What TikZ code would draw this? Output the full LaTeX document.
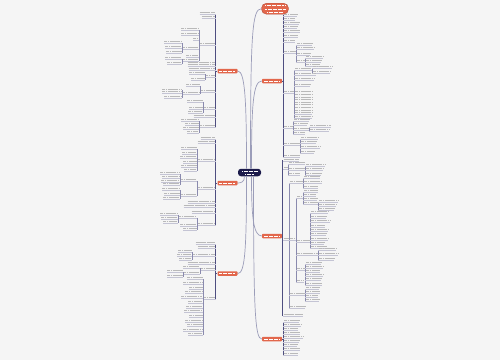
\documentclass[tikz,border=0pt]{standalone}
\definecolor{bg}{HTML}{F5F5F5}
\definecolor{navy}{HTML}{1C1B4B}
\definecolor{coral}{HTML}{E2674C}
\definecolor{connc}{HTML}{9B9DB9}
\definecolor{spinec}{HTML}{4E4E80}
\definecolor{subsp}{HTML}{8A8AAE}
\definecolor{txc}{HTML}{B9B9B9}
\definecolor{ulc}{HTML}{C4C4D4}
\newcommand\ritm[3]{\draw[tx] ({#1+1},{#2-1.3}) -- ({#1+#3},{#2-1.3}); \draw[ul] (#1,#2) -- ({#1+#3},#2);}
\newcommand\litm[3]{\draw[tx] ({#1-#3},{#2-1.3}) -- ({#1-1},{#2-1.3}); \draw[ul] ({#1-#3},#2) -- (#1,#2);}
\newcommand\rpar[4]{\foreach \kk in {1,...,#4}{\draw[tx] ({#1+1},{#2-1.3-2.6*(\kk-1)}) -- ({#1+#3},{#2-1.3-2.6*(\kk-1)});} \draw[ul] (#1,#2) -- ({#1+#3},#2);}
\newcommand\lpar[4]{\foreach \kk in {1,...,#4}{\draw[tx] ({#1-#3},{#2-1.3-2.6*(\kk-1)}) -- ({#1-1},{#2-1.3-2.6*(\kk-1)});} \draw[ul] ({#1-#3},#2) -- (#1,#2);}
\newcommand\spn[3]{\draw[sp] (#1,#2) -- (#1,#3);}
\begin{document}
\begin{tikzpicture}[x=1pt,y=-1pt,
 tx/.style={txc,line width=0.9pt,dash pattern=on 1.6pt off 0.25pt},
 ul/.style={ulc,line width=0.35pt},
 sp/.style={subsp,line width=0.45pt},
 msp/.style={spinec,line width=0.7pt},
 cn/.style={connc,line width=0.7pt},
 br/.style={fill=coral,rounded corners=0.8pt,minimum width=20pt,minimum height=4.5pt,inner sep=0pt},
 wt/.style={white,line width=0.8pt,dash pattern=on 1.3pt off 0.35pt}]
\fill[bg] (0,0) rectangle (500,360);
\useasboundingbox (0,0) rectangle (500,360);

% main nodes
\node[fill=navy,rounded corners=3pt,minimum width=23pt,minimum height=7.5pt,inner sep=0pt] (root) at (249.5,172.5) {};
\node[fill=coral,draw=coral!80!black,line width=0.4pt,rounded corners=5pt,minimum width=27pt,minimum height=11pt,inner sep=0pt] (top) at (275,8.7) {};
\node[br] (L1) at (227.5,71) {};
\node[br] (L2) at (227.5,183) {};
\node[br] (L3) at (227.5,273.5) {};
\node[br] (R1) at (272,81) {};
\node[br] (R2) at (272,236) {};
\node[br] (R3) at (272,339) {};

% connectors from root
\draw[cn] ([xshift=-3pt]root.north) .. controls (246.5,100) and (245,71) .. (L1.east);
\draw[cn] ([xshift=-5pt]root.south) .. controls (244.5,182) and (241,183) .. (L2.east);
\draw[cn] ([xshift=-3pt]root.south) .. controls (246.5,250) and (245,273.5) .. (L3.east);
\draw[cn] ([xshift=1pt]root.north) .. controls (250.5,35) and (252,8.7) .. (top.west);
\draw[cn] ([xshift=2pt]root.north) .. controls (251.5,105) and (253,81) .. (R1.west);
\draw[cn] ([xshift=2pt]root.south) .. controls (251.5,215) and (253,236) .. (R2.west);
\draw[cn] ([xshift=4pt]root.south) .. controls (253.5,310) and (255,339) .. (R3.west);

% white text marks in nodes
\draw[wt] (242,171) -- (257,171); \draw[wt] (245,174.3) -- (254,174.3);
\draw[wt] (265,5.6) -- (285,5.6); \draw[wt] (264.5,8.9) -- (285.5,8.9); \draw[wt] (267,12.2) -- (283,12.2);
\foreach \n in {L1,L2,L3,R1,R2,R3}{\draw[white,line width=0.7pt,dash pattern=on 1.3pt off 0.35pt] ([xshift=2pt]\n.west) -- ([xshift=-2pt]\n.east);}

% branch to spine
\draw[msp] (L1.west) -- ++(-2,0); \draw[msp] (L2.west) -- ++(-2,0); \draw[msp] (L3.west) -- ++(-2,0);
\draw[msp] (R1.east) -- ++(1,0); \draw[msp] (R2.east) -- ++(0.5,0); \draw[msp] (R3.east) -- ++(1,0);

% ===== R1 =====
\draw[msp] (283,15) -- (283,157);
\ritm{283}{16}{14}\ritm{283}{20}{12}\ritm{283}{24}{16}\ritm{283}{28}{14}
\ritm{283}{32}{17}\ritm{283}{37}{15}\ritm{283}{42}{12}
\ritm{283}{53}{13}\spn{296}{45}{62}
\ritm{296}{45}{16}\ritm{296}{49}{18}\ritm{296}{55}{14}\ritm{296}{62}{9}
\spn{305}{58}{66}\ritm{305}{58}{18}\ritm{305}{62}{16}\ritm{305}{66}{14}
\ritm{283}{93}{11}\spn{294}{70}{118}
\ritm{294}{70}{18}\spn{312}{68}{73}\ritm{312}{68}{20}\ritm{312}{73}{18}
\ritm{294}{75}{22}\ritm{294}{80}{20}\ritm{294}{86}{16}
\rpar{294}{114}{18}{9}
\ritm{294}{118}{18}
\ritm{283}{128}{10}\spn{293}{121}{134}
\ritm{293}{121}{16}\ritm{293}{125}{14}\ritm{293}{130}{16}\ritm{293}{134}{12}
\spn{309}{127}{131}\ritm{309}{127}{22}\ritm{309}{131}{20}
\ritm{283}{145}{17}\spn{300}{139}{153}
\ritm{300}{139}{18}\ritm{300}{143}{16}\ritm{300}{148}{20}\ritm{300}{153}{14}
\ritm{283}{157}{17}

% ===== R2 =====
\draw[msp] (282.5,160) -- (282.5,316);
\ritm{282.5}{161}{16}
\ritm{282.5}{169}{5.5}\spn{288}{164}{175}
\ritm{288}{164}{17}\ritm{288}{170}{17}\ritm{288}{175}{12}
\spn{305}{166}{175}\ritm{305}{166}{20}\ritm{305}{170}{18}\ritm{305}{175}{16}
\ritm{282.5}{240}{6.5}\spn{289}{183}{308}
\ritm{289}{183}{14}\spn{303}{178}{188}
\ritm{303}{178}{17}\ritm{303}{183}{19}\ritm{303}{188}{15}
\ritm{289}{240}{7}\spn{296}{198}{282}
\ritm{296}{198}{7}\spn{303}{192}{204}
\ritm{303}{192}{15}\ritm{303}{196}{13}\ritm{303}{200}{14}\ritm{303}{204}{15}
\spn{318}{202}{210}\ritm{318}{202}{20}\ritm{318}{206}{18}\ritm{318}{210}{16}
\ritm{296}{242}{14}\spn{310}{213}{248}
\ritm{310}{213}{18}\ritm{310}{218}{16}\ritm{310}{222}{20}\ritm{310}{227}{15}\ritm{310}{231}{18}
\ritm{310}{235}{16}\ritm{310}{240}{18}\ritm{310}{244}{14}\ritm{310}{248}{17}
\ritm{296}{255}{22}\spn{318}{250}{260}
\ritm{318}{250}{18}\ritm{318}{255}{20}\ritm{318}{260}{16}
\ritm{296}{270}{9}\spn{305}{264}{285}
\ritm{305}{264}{16}\ritm{305}{268}{18}\ritm{305}{272}{15}\ritm{305}{276}{18}\ritm{305}{280}{16}\ritm{305}{285}{17}
\ritm{296}{282}{8}
\ritm{289}{295}{16}\spn{305}{289}{301}
\ritm{305}{289}{14}\ritm{305}{293}{15}\ritm{305}{297}{13}\ritm{305}{301}{14}
\ritm{289}{308}{16}
\ritm{282.5}{316}{20}

% ===== R3 =====
\draw[msp] (283,322) -- (283,355);
\ritm{283}{322}{16}\ritm{283}{326}{18}\ritm{283}{330}{15}\ritm{283}{334}{17}\ritm{283}{338}{20}
\ritm{283}{342}{16}\ritm{283}{346}{14}\ritm{283}{350}{17}\ritm{283}{355}{15}

% ===== L1 =====
\draw[msp] (215.5,14) -- (215.5,127);
\litm{215.5}{14}{16}\litm{215.5}{18}{14}
\litm{215.5}{45}{16.5}\spn{199}{30}{61}
\litm{199}{30}{18}\litm{199}{35}{18}\litm{199}{40}{6}
\litm{199}{49}{17}\spn{182}{43}{53}\litm{182}{43}{18}\litm{182}{48}{17}\litm{182}{53}{16}
\litm{199}{57}{13}
\litm{199}{61}{17}\spn{182}{59}{64}\litm{182}{59}{17}\litm{182}{64}{15}
\lpar{215.5}{66}{28}{2}
\litm{215.5}{70}{27}
\litm{215.5}{77}{10.5}\spn{205}{74}{80}\litm{205}{74}{16}\litm{205}{80}{14}
\litm{215.5}{92}{15.5}\spn{200}{86}{94}\litm{200}{86}{14}
\litm{200}{94}{18}\spn{182}{90}{98}\lpar{182}{93}{20}{2}\litm{182}{98}{18}
\litm{215.5}{109}{12.5}\spn{203}{102}{113}\litm{203}{102}{16}\litm{203}{109}{14}\litm{203}{113}{15}
\litm{215.5}{117}{22}
\litm{215.5}{127}{16.5}\spn{199}{121}{133}
\litm{199}{121}{18}\litm{199}{125}{14}\litm{199}{129}{16}\litm{199}{133}{12}

% ===== L2 =====
\draw[msp] (215.5,139) -- (215.5,225);
\litm{215.5}{139}{15}\litm{215.5}{143}{18}
\litm{215.5}{161}{18.5}\spn{197}{149}{171}
\litm{197}{149}{16}\litm{197}{154}{15}\litm{197}{158}{17}\litm{197}{163}{14}\litm{197}{167}{16}\litm{197}{171}{13}
\litm{215.5}{189}{18.5}\spn{197}{181}{196}
\litm{197}{181}{17}\spn{180}{174}{185}\litm{180}{174}{20}\litm{180}{178}{18}\litm{180}{182}{19}\litm{180}{185}{17}
\litm{197}{196}{17}\spn{180}{190}{199}\litm{180}{190}{18}\litm{180}{195}{16}\litm{180}{199}{17}
\litm{215.5}{203}{28}\litm{215.5}{207}{32}\litm{215.5}{213}{24}
\litm{215.5}{225}{18.5}\spn{197}{218}{230}
\litm{197}{218}{19}\spn{178}{215}{223}\litm{178}{215}{18}\litm{178}{219}{17}\litm{178}{223}{15}
\litm{197}{226}{17}\litm{197}{230}{14}

% ===== L3 =====
\draw[msp] (215.5,244) -- (215.5,299);
\litm{215.5}{244}{20}\litm{215.5}{248}{18}
\litm{215.5}{256}{23.5}\spn{192}{252}{260}\litm{192}{252}{14}\litm{192}{256}{15}\litm{192}{260}{13}
\litm{215.5}{264}{28}
\litm{215.5}{270}{15.5}\spn{200}{268}{274}\litm{200}{268}{17}
\litm{200}{274}{17}\spn{183}{272}{277}\litm{183}{272}{16}\litm{183}{277}{16}
\litm{215.5}{299}{12.5}\spn{203}{279}{335}
\foreach \yy/\ww in {279/16,284/20,289/14,293/18,298/22,303/15,308/17,312/19,317/14,322/18,326/16,331/20,335/15}{\litm{203}{\yy}{\ww}}
\end{tikzpicture}
\end{document}
